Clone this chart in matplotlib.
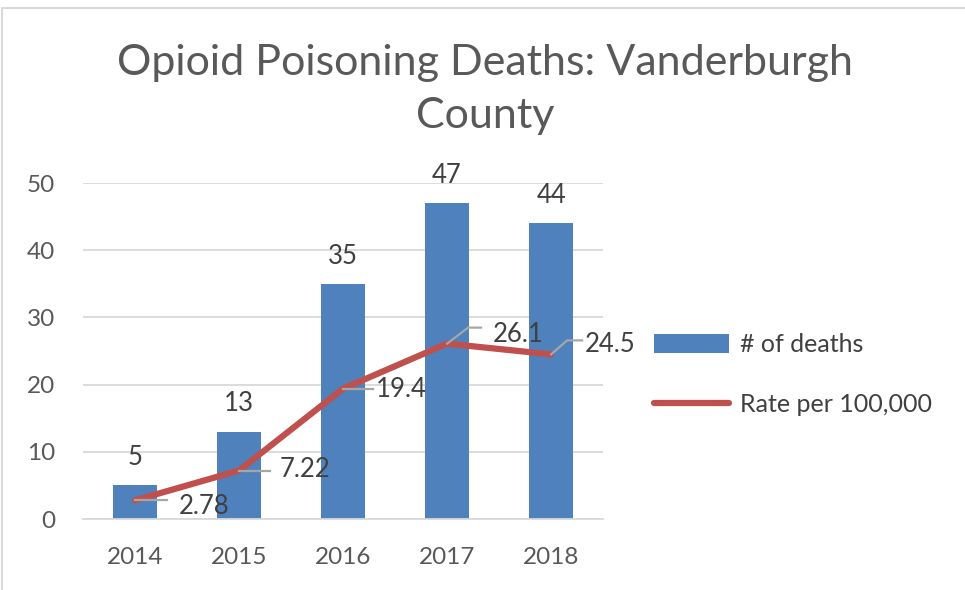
import numpy as np
import matplotlib.pyplot as plt

plt.rcParams['font.family'] = ['Lato', 'DejaVu Sans']

years = ['2014', '2015', '2016', '2017', '2018']
deaths = [5, 13, 35, 47, 44]
rate = [2.78, 7.22, 19.4, 26.1, 24.5]
rate_labels = ['2.78', '7.22', '19.4', '26.1', '24.5']

blue = '#4F81BD'
red = '#C0504D'
txt = '#595959'
grid = '#D9D9D9'

fig = plt.figure(figsize=(9.65, 5.9), dpi=100)
ax = fig.add_axes([0.086, 0.1203, 0.539, 0.5695])

x = np.arange(len(years))
ax.set_xlim(-0.5, 4.5)
ax.set_ylim(0, 50)

bars = ax.bar(x, deaths, width=0.42, color=blue, label='# of deaths', zorder=2)
line, = ax.plot(x, rate, color=red, lw=4.5, solid_capstyle='round', label='Rate per 100,000', zorder=3)

# labels above bars
for xi, d in zip(x, deaths):
    ax.annotate(str(d), (xi, d), xytext=(0, 20), textcoords='offset points',
                ha='center', va='center', fontsize=18.5, color='#404040', clip_on=False)

# rate labels with leader lines (offsets in px)
leaders = [
    [(0, 0), (32, 0)],
    [(0, 0), (31, 0)],
    [(0, 0), (30, 0)],
    [(0, 0), (21, 16), (34, 16)],
    [(0, 0), (16, 14), (31, 14)],
]
text_off = [(44, -6), (41, 1), (33, -1), (46, 9), (34, 10)]
for xi, r, lab, pts, off in zip(x, rate, rate_labels, leaders, text_off):
    px, py = ax.transData.transform((xi, r))
    xs = [px + p[0] for p in pts]
    ys = [py + p[1] for p in pts]
    inv = ax.transData.inverted()
    data_pts = inv.transform(np.column_stack([xs, ys]))
    ax.plot(data_pts[:, 0], data_pts[:, 1], color='#A6A6A6', lw=1.6, zorder=4, clip_on=False)
    ax.annotate(lab, (xi, r), xytext=(off[0] * 0.72, off[1] * 0.72), textcoords='offset points',
                ha='left', va='center', fontsize=18.5, color='#404040', zorder=5)

ax.set_yticks([0, 10, 20, 30, 40, 50])
ax.set_xticks(x)
ax.set_xticklabels(years)
ax.tick_params(axis='both', length=0, labelsize=17.5, labelcolor=txt)
ax.tick_params(axis='x', pad=20)
ax.tick_params(axis='y', pad=20)
ax.yaxis.grid(True, color=grid, lw=1.3, zorder=0)
ax.set_axisbelow(True)
for s in ['top', 'right', 'left']:
    ax.spines[s].set_visible(False)
ax.spines['bottom'].set_color(grid)
ax.spines['bottom'].set_linewidth(1.3)

fig.text(0.503, 0.848, 'Opioid Poisoning Deaths: Vanderburgh\nCounty', ha='center', va='center',
         fontsize=31, color=txt, linespacing=1.5)

ax.legend([bars, line], ['# of deaths', 'Rate per 100,000'], loc='center left',
          bbox_to_anchor=(1.055, 0.43), frameon=False, fontsize=18,
          labelcolor='#404040', handlelength=3.0, handleheight=0.8, labelspacing=1.45,
          handletextpad=0.45)

# chart frame
fig.patches.append(plt.Rectangle((0.002, -0.01), 1.1, 0.997, transform=fig.transFigure,
                                 fill=False, ec='#D9D9D9', lw=1.5))

fig.savefig('out.png', dpi=100)
